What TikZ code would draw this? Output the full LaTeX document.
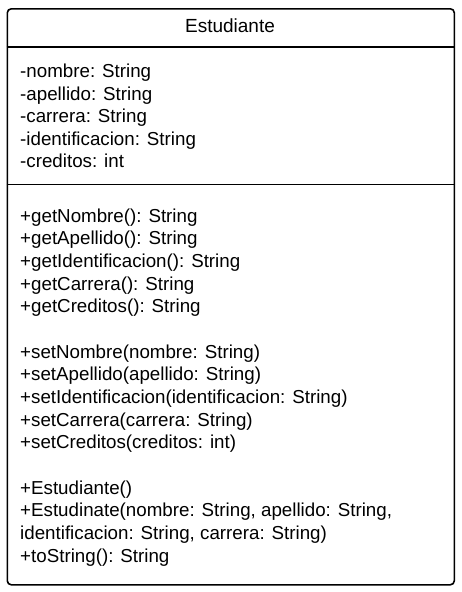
\documentclass[tikz,border=0pt]{standalone}
\usepackage{fontspec}
\setmainfont{Liberation Sans}
\begin{document}
\begin{tikzpicture}[x=1pt,y=-1pt,
  classbox/.style={draw=black, line width=1.6pt, rounded corners=4pt, minimum width=447pt, minimum height=576pt, inner sep=0pt, anchor=north west},
  divider/.style={draw=black, line width=1.2pt},
  member/.style={anchor=base west, inner sep=0pt, font=\fontsize{18.75}{22}\selectfont},
  title/.style={anchor=base, inner sep=0pt, font=\fontsize{19}{22}\selectfont}]
\useasboundingbox (0,0) rectangle (462,592);
\node[classbox] (box) at (6.5,8) {};
\node[title] (name) at (230,32) {Estudiante};
\draw[divider] (box.west |- 0,47) coordinate (d1a) -- (box.east |- 0,47) coordinate (d1b);
\draw[divider] (box.west |- 0,184.5) coordinate (d2a) -- (box.east |- 0,184.5) coordinate (d2b);
% attributes
\node[member] (a1) at (20,77.5) {-nombre: String};
\node[member] (a2) at (20,100) {-apellido: String};
\node[member] (a3) at (20,122.5) {-carrera: String};
\node[member] (a4) at (20,145) {-identificacion: String};
\node[member] (a5) at (20,167.5) {-creditos: int};
% operations
\node[member] (m1) at (20,222) {+getNombre(): String};
\node[member] (m2) at (20,244.67) {+getApellido(): String};
\node[member] (m3) at (20,267.33) {+getIdentificacion(): String};
\node[member] (m4) at (20,290) {+getCarrera(): String};
\node[member] (m5) at (20,312.67) {+getCreditos(): String};
\node[member] (m6) at (20,358) {+setNombre(nombre: String)};
\node[member] (m7) at (20,380.67) {+setApellido(apellido: String)};
\node[member] (m8) at (20,403.33) {+setIdentificacion(identificacion: String)};
\node[member] (m9) at (20,426) {+setCarrera(carrera: String)};
\node[member] (m10) at (20,448.67) {+setCreditos(creditos: int)};
\node[member] (m11) at (20,494) {+Estudiante()};
\node[member] (m12) at (20,516.67) {+Estudinate(nombre: String, apellido: String,};
\node[member] (m13) at (20,539.33) {identificacion: String, carrera: String)};
\node[member] (m14) at (20,562) {+toString(): String};
\end{tikzpicture}
\end{document}
